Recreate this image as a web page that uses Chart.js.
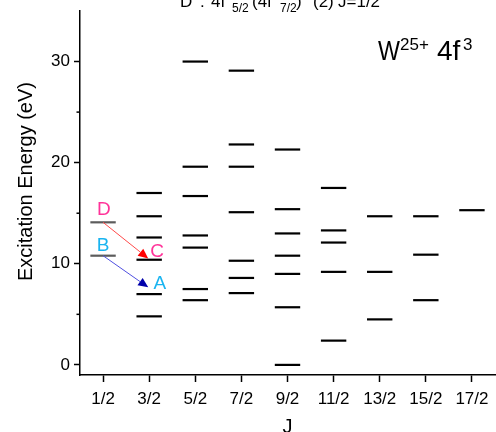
<!DOCTYPE html>
<html><head><meta charset="utf-8">
<script src="https://cdn.jsdelivr.net/npm/chart.js@4/dist/chart.umd.min.js"></script>
<style>html,body{margin:0;padding:0;background:#fff;}</style>
</head><body>
<canvas id="c" width="496" height="432"></canvas>
<script>
// ---- data ----
const jLabels = ['1/2','3/2','5/2','7/2','9/2','11/2','13/2','15/2','17/2'];
const levels_1_2  = [14.1, 10.8];
const levels_3_2  = [17.0, 14.7, 12.6, 10.4, 7.0, 4.8];
const levels_5_2  = [30.0, 19.6, 16.7, 12.8, 11.6, 7.5, 6.4];
const levels_7_2  = [29.1, 21.8, 19.6, 15.1, 10.3, 8.6, 7.1];
const levels_9_2  = [21.3, 15.4, 13.0, 10.8, 9.0, 5.7, 0.0];
const levels_11_2 = [17.5, 13.3, 12.1, 9.2, 2.4];
const levels_13_2 = [14.7, 9.2, 4.5];
const levels_15_2 = [14.7, 10.9, 6.4];
const levels_17_2 = [15.3];
const yTickValues = [0, 10, 20, 30];
const yMinorTicks = [5, 15, 25];
// transitions: [startIndex, startEnergy, endIndex, endEnergy]
const transitionDC = [0, 14.1, 0.98, 10.53];
const transitionBA = [0, 10.8, 0.98, 7.67];
// level labels: [text, index, energy]
const labelD = ['D', 0.02, 15.3];
const labelB = ['B', 0.0, 11.75];
const labelC = ['C', 1.17, 11.2];
const labelA = ['A', 1.23, 8.0];

const otherColumns = [null, levels_3_2, levels_5_2, levels_7_2, levels_9_2, levels_11_2, levels_13_2, levels_15_2, levels_17_2];
const grayPts = levels_1_2.map(v => ({x: jLabels[0], y: v}));
const blackPts = [];
otherColumns.forEach((col, i) => { if (col) col.forEach(v => blackPts.push({x: jLabels[i], y: v})); });

const FONT = "'Liberation Sans', Arial, sans-serif";
const PINK = '#ff3399', CYAN = '#19b4f0';

function arrow(ctx, x1, y1, x2, y2, lineColor, headColor) {
  ctx.save();
  ctx.strokeStyle = lineColor; ctx.lineWidth = 1;
  const a = Math.atan2(y2 - y1, x2 - x1);
  const L = 10, W = 4.5;
  const bx = x2 - L * Math.cos(a), by = y2 - L * Math.sin(a);
  ctx.beginPath(); ctx.moveTo(x1, y1); ctx.lineTo(bx, by); ctx.stroke();
  ctx.fillStyle = headColor;
  ctx.beginPath();
  ctx.moveTo(x2, y2);
  ctx.lineTo(bx + W * Math.sin(a), by - W * Math.cos(a));
  ctx.lineTo(bx - W * Math.sin(a), by + W * Math.cos(a));
  ctx.closePath(); ctx.fill();
  ctx.restore();
}

const annot = {
  id: 'annot',
  afterDraw(chart) {
    const ctx = chart.ctx, xs = chart.scales.x, ys = chart.scales.y;
    // minor ticks
    ctx.save();
    ctx.strokeStyle = '#000'; ctx.lineWidth = 1.5;
    yMinorTicks.forEach(v => {
      const y = ys.getPixelForValue(v);
      ctx.beginPath(); ctx.moveTo(xs.left - 3.5, y); ctx.lineTo(xs.left, y); ctx.stroke();
    });
    ctx.restore();
    // arrows
    const T = t => [xs.getPixelForValue(t[0]), ys.getPixelForValue(t[1]), xs.getPixelForValue(t[2]), ys.getPixelForValue(t[3])];
    const d = T(transitionDC); arrow(ctx, d[0], d[1], d[2], d[3], '#ff4a4a', '#ff0000');
    const b = T(transitionBA); arrow(ctx, b[0], b[1], b[2], b[3], '#5050e0', '#0000aa');
    // labels
    ctx.save();
    ctx.font = '19px ' + FONT; ctx.textAlign = 'center'; ctx.textBaseline = 'middle';
    [[labelD, PINK], [labelC, PINK], [labelB, CYAN], [labelA, CYAN]].forEach(([l, c]) => {
      ctx.fillStyle = c;
      ctx.fillText(l[0], xs.getPixelForValue(l[1]), ys.getPixelForValue(l[2]));
    });
    ctx.restore();
    // axis titles
    ctx.save();
    ctx.fillStyle = '#000';
    ctx.font = '20px ' + FONT; ctx.textAlign = 'center'; ctx.textBaseline = 'alphabetic';
    ctx.translate(32, 181.5); ctx.rotate(-Math.PI / 2);
    ctx.fillText('Excitation Energy (eV)', 0, 0);
    ctx.restore();
    ctx.save();
    ctx.fillStyle = '#000';
    ctx.font = '20px ' + FONT; ctx.textAlign = 'center'; ctx.textBaseline = 'alphabetic';
    ctx.fillText('J', xs.getPixelForValue(4), 433);
    ctx.restore();
    // top title (partly cut off)
    ctx.save();
    ctx.fillStyle = '#000'; ctx.textBaseline = 'alphabetic'; ctx.textAlign = 'left';
    const main = '17px ' + FONT, sub = '12px ' + FONT;
    [['D', 180, 7, main], [':', 200, 7, main], ['4f', 211, 7, main], ['5/2', 232, 11.5, sub],
     ['(4f', 252, 7, main], ['7/2', 280, 11.5, sub], [')', 296, 7, main],
     ['(2)', 313, 7, main], ['J=1/2', 338, 7, main]].forEach(p => {
      ctx.font = p[3]; ctx.fillText(p[0], p[1], p[2]);
    });
    ctx.restore();
    // ion label
    ctx.save();
    ctx.fillStyle = '#000'; ctx.textBaseline = 'alphabetic'; ctx.textAlign = 'left';
    ctx.save(); ctx.translate(378, 60); ctx.scale(0.83, 1); ctx.font = '28px ' + FONT; ctx.fillText('W', 0, 0); ctx.restore();
    ctx.font = '17px ' + FONT; ctx.fillText('25+', 400, 50);
    ctx.font = '28px ' + FONT; ctx.fillText('4f', 437, 60);
    ctx.font = '17px ' + FONT; ctx.fillText('3', 463, 50);
    ctx.restore();
  }
};

new Chart(document.getElementById('c'), {
  type: 'line',
  data: {
    labels: jLabels,
    datasets: [
      {data: grayPts, showLine: false, pointStyle: 'line', pointRadius: 12.7, pointBorderWidth: 2.2,
       borderColor: '#5c5c5c', backgroundColor: '#5c5c5c', pointHoverRadius: 12.7, clip: false},
      {data: blackPts, showLine: false, pointStyle: 'line', pointRadius: 12.7, pointBorderWidth: 2.2,
       borderColor: '#000', backgroundColor: '#000', pointHoverRadius: 12.7, clip: false}
    ]
  },
  options: {
    responsive: false, animation: false, devicePixelRatio: 1, events: [],
    layout: {autoPadding: false, padding: {top: 11, right: 1, left: 0, bottom: 0}},
    plugins: {legend: {display: false}, tooltip: {enabled: false}},
    scales: {
      x: {
        type: 'category', labels: jLabels, offset: true,
        grid: {display: true, drawOnChartArea: false, offset: false, tickLength: 7, tickWidth: 1.5, tickColor: '#000'},
        border: {display: true, color: '#000', width: 1.5},
        ticks: {color: '#000', font: {family: FONT, size: 17}, padding: 7, autoSkip: false, maxRotation: 0},
        afterFit: s => { s.height = 57; s.paddingLeft = 0; s.paddingRight = 0; }
      },
      y: {
        type: 'linear', min: -1, max: 35,
        afterBuildTicks: s => { s.ticks = yTickValues.map(v => ({value: v})); },
        grid: {display: true, drawOnChartArea: false, tickLength: 6, tickWidth: 1.5, tickColor: '#000'},
        border: {display: true, color: '#000', width: 1.5},
        ticks: {color: '#000', font: {family: FONT, size: 17}, padding: 4},
        afterFit: s => { s.width = 80; s.paddingTop = 0; s.paddingBottom = 0; }
      }
    }
  },
  plugins: [annot]
});
</script>
</body></html>
